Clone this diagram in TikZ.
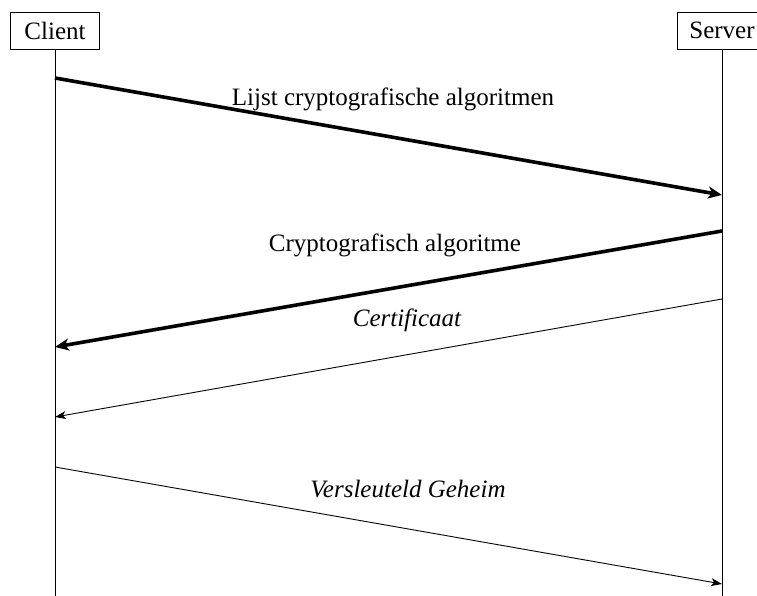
\documentclass[tikz,border=0pt]{standalone}
\usepackage{fontspec}
\setmainfont{Liberation Serif}
\usetikzlibrary{arrows.meta}
\begin{document}
\begin{tikzpicture}[x=1pt,y=-1pt,
  actor/.style={draw,line width=0.8pt,minimum width=89pt,minimum height=37pt,inner sep=0pt,font=\fontsize{25}{28}\selectfont},
  lifeline/.style={line width=0.9pt},
  bigmsg/.style={line width=3.6pt,-{Stealth[length=14pt,width=12pt,inset=4pt]}},
  smallmsg/.style={line width=0.9pt,-{Stealth[length=11pt,width=8pt,inset=3pt]}},
  msglabel/.style={anchor=base,inner sep=0pt,font=\fontsize{25}{28}\selectfont}]
\clip (0,0) rectangle (757,596);
\fill[white] (0,0) rectangle (757,596);
% participants
\node[actor] (client) at (55,30.5) {Client};
\node[actor] (server) at (722,30.5) {Server};
\coordinate (cend) at (55,600);
\coordinate (send) at (722,600);
\draw[lifeline] (client.south) -- (cend);
\draw[lifeline] (server.south) -- (send);
% message endpoints on the lifelines
\coordinate (c1) at (55,78);   \coordinate (s1) at (722,195);
\coordinate (s2) at (722,231); \coordinate (c2) at (55,347);
\coordinate (s3) at (722,299); \coordinate (c3) at (55,417);
\coordinate (c4) at (55,467);  \coordinate (s4) at (722,584);
% messages
\draw[bigmsg] (c1) -- (s1);
\draw[bigmsg] (s2) -- (c2);
\draw[smallmsg] (s3) -- (c3);
\draw[smallmsg] (c4) -- (s4);
% labels
\node[msglabel] (l1) at (393,106) {Lijst cryptografische algoritmen};
\node[msglabel] (l2) at (395,251) {Cryptografisch algoritme};
\node[msglabel] (l3) at (407,326) {\itshape Certificaat};
\node[msglabel] (l4) at (408,497) {\itshape Versleuteld Geheim};
\end{tikzpicture}
\end{document}
